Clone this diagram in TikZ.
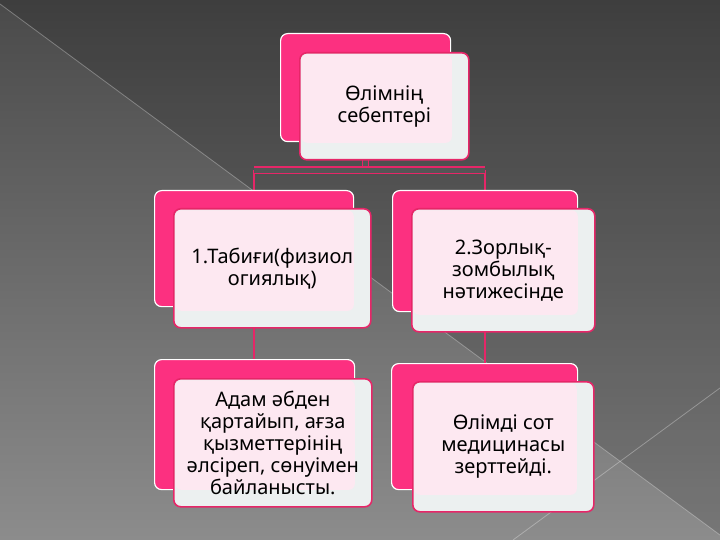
\documentclass[tikz,border=0pt]{standalone}
\usepackage{fontspec}
\newfontfamily\cardfont{Noto Sans}
\usepackage{tikz}
\usetikzlibrary{backgrounds,calc}
\definecolor{hotpink}{RGB}{252,48,128}
\definecolor{edgepink}{RGB}{230,38,104}
\definecolor{cardpink}{RGB}{253,232,241}
\definecolor{cardgray}{RGB}{236,240,240}
\definecolor{linkgray}{RGB}{84,86,86}
\definecolor{bgtop}{RGB}{74,74,74}
\definecolor{bgbot}{RGB}{140,140,140}
\pgfdeclarelayer{bg}
\pgfdeclarelayer{links}
\pgfsetlayers{bg,links,main}

\begin{document}
\begin{tikzpicture}[x=1pt,y=-1pt,
  backbox/.style={draw=white, line width=1.2pt, fill=hotpink, rounded corners=7pt,
    anchor=north west, inner sep=0pt},
  card/.style={draw=edgepink, line width=1.6pt, fill=cardgray, rounded corners=7pt,
    anchor=north west, inner sep=0pt, align=center, text=black,
    font=\cardfont\fontsize{20}{22}\selectfont,
    path picture={\fill[cardpink, rounded corners=6pt]
      ($(path picture bounding box.north west)+(1.5pt,-1.5pt)$) rectangle
      ($(path picture bounding box.south east)+(-17pt,17pt)$);}},
  link/.style={draw=edgepink, line width=1.4pt},
  dlink/.style={draw=edgepink, line width=1.2pt, double=linkgray, double distance=5pt}]
\useasboundingbox (0,0) rectangle (720,540);
\begin{pgfonlayer}{bg}
\shade[top color=bgtop, bottom color=bgbot] (0,0) rectangle (720,540);
\fill[black, opacity=.15] (0,4) -- (0,0) -- (720,0) -- (720,535) -- cycle;
\draw[white, opacity=.3, line width=.8pt] (0,4) -- (720,535);
\draw[white, opacity=.3, line width=.8pt] (513,540) -- (720,388);
\end{pgfonlayer}

\node[backbox, minimum width=170, minimum height=108] (topback) at (280,33) {};
\node[card, minimum width=169, minimum height=107] (topcard) at (299,52) {Өлімнің\\себептері};

\node[backbox, minimum width=199, minimum height=116] (natback) at (154,190) {};
\node[card, minimum width=197, minimum height=119] (natcard) at (173,208) {1.Табиғи(физиол\\огиялық)};

\node[backbox, minimum width=185, minimum height=121] (violback) at (392,190) {};
\node[card, minimum width=183, minimum height=123] (violcard) at (411,208) {2.Зорлық-\\зомбылық\\нәтижесінде};

\node[backbox, minimum width=200, minimum height=130] (ageback) at (154,359) {};
\node[card, minimum width=198, minimum height=128] (agecard) at (173,378) {Адам әбден\\қартайып, ағза\\қызметтерінің\\әлсіреп, сөнуімен\\байланысты.};

\node[backbox, minimum width=186, minimum height=126] (courtback) at (391,363) {};
\node[card, minimum width=181, minimum height=130] (courtcard) at (412,381) {Өлімді сот\\медицинасы\\зерттейді.};

\begin{pgfonlayer}{links}
\draw[link] (natback.south) -- (natback.south |- ageback.north);
\draw[link] (violback.south) -- (violback.south |- courtback.north);
\draw[dlink] (topback.south) -- ++(0,28) coordinate (fork);
\draw[link] (fork -| natback.north) -- (natback.north);
\draw[link] (fork -| violback.north) -- (violback.north);
\draw[dlink] (fork -| natback.north) -- (fork -| violback.north);
\end{pgfonlayer}
\end{tikzpicture}
\end{document}
